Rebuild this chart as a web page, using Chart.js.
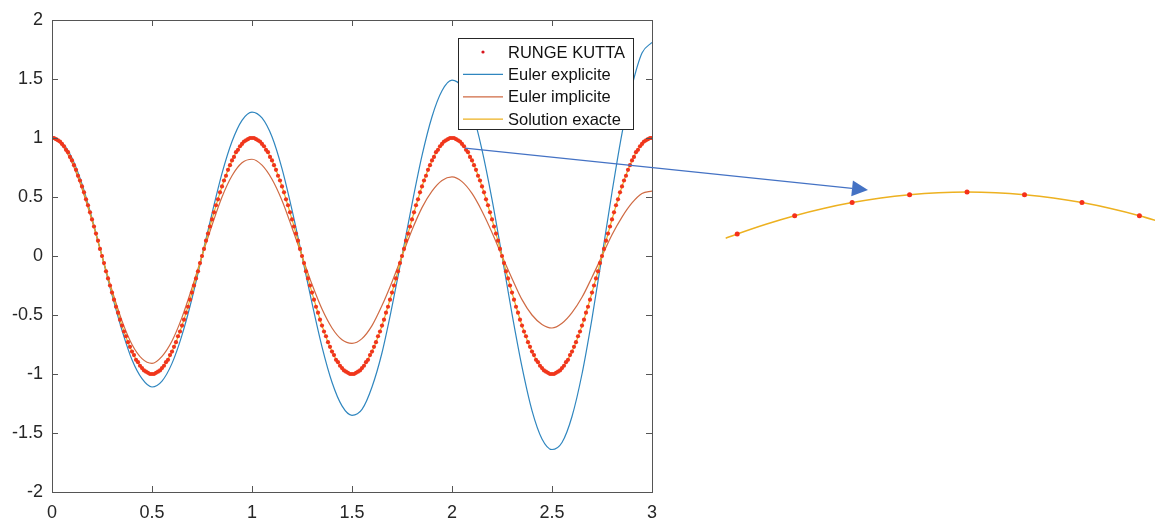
<!DOCTYPE html>
<html>
<head>
<meta charset="utf-8">
<script src="https://cdn.jsdelivr.net/npm/chart.js@4.4.1/dist/chart.umd.min.js"></script>
<style>
    html, body { margin: 0; padding: 0; background: #fff; }
    #wrap { position: relative; width: 1159px; height: 522px; }
    #graphe { position: absolute; left: 0; top: 0; }
    #zoom { position: absolute; left: 660px; top: 150px; }
</style>
</head>
<body>
<div id="wrap">
    <canvas id="graphe" width="1159" height="522"></canvas>
    <canvas id="zoom" width="499" height="110"></canvas>
</div>
<script>
// Pas de temps des différentes méthodes
const pasRK = 0.01;
const pasEuler = 0.05;

// Runge Kutta (t = 0 .. 3)
const rungeKutta = [
    1.00, 1.00, 0.99, 0.98, 0.97, 0.95, 0.93, 0.90, 0.88, 0.84, 0.81, 0.77, 0.73, 0.68, 0.64, 0.59, 0.54, 0.48, 0.43, 0.37, 0.31, 0.25, 0.19, 0.13, 0.06,
    0.00, -0.06, -0.13, -0.19, -0.25, -0.31, -0.37, -0.43, -0.48, -0.54, -0.59, -0.64, -0.68, -0.73, -0.77, -0.81, -0.84, -0.88, -0.90, -0.93, -0.95, -0.97, -0.98, -0.99, -1.00,
    -1.00, -1.00, -0.99, -0.98, -0.97, -0.95, -0.93, -0.90, -0.88, -0.84, -0.81, -0.77, -0.73, -0.68, -0.64, -0.59, -0.54, -0.48, -0.43, -0.37, -0.31, -0.25, -0.19, -0.13, -0.06,
    0.00, 0.06, 0.13, 0.19, 0.25, 0.31, 0.37, 0.43, 0.48, 0.54, 0.59, 0.64, 0.68, 0.73, 0.77, 0.81, 0.84, 0.88, 0.90, 0.93, 0.95, 0.97, 0.98, 0.99, 1.00,
    1.00, 1.00, 0.99, 0.98, 0.97, 0.95, 0.93, 0.90, 0.88, 0.84, 0.81, 0.77, 0.73, 0.68, 0.64, 0.59, 0.54, 0.48, 0.43, 0.37, 0.31, 0.25, 0.19, 0.13, 0.06,
    0.00, -0.06, -0.13, -0.19, -0.25, -0.31, -0.37, -0.43, -0.48, -0.54, -0.59, -0.64, -0.68, -0.73, -0.77, -0.81, -0.84, -0.88, -0.90, -0.93, -0.95, -0.97, -0.98, -0.99, -1.00,
    -1.00, -1.00, -0.99, -0.98, -0.97, -0.95, -0.93, -0.90, -0.88, -0.84, -0.81, -0.77, -0.73, -0.68, -0.64, -0.59, -0.54, -0.48, -0.43, -0.37, -0.31, -0.25, -0.19, -0.13, -0.06,
    0.00, 0.06, 0.13, 0.19, 0.25, 0.31, 0.37, 0.43, 0.48, 0.54, 0.59, 0.64, 0.68, 0.73, 0.77, 0.81, 0.84, 0.88, 0.90, 0.93, 0.95, 0.97, 0.98, 0.99, 1.00,
    1.00, 1.00, 0.99, 0.98, 0.97, 0.95, 0.93, 0.90, 0.88, 0.84, 0.81, 0.77, 0.73, 0.68, 0.64, 0.59, 0.54, 0.48, 0.43, 0.37, 0.31, 0.25, 0.19, 0.13, 0.06,
    0.00, -0.06, -0.13, -0.19, -0.25, -0.31, -0.37, -0.43, -0.48, -0.54, -0.59, -0.64, -0.68, -0.73, -0.77, -0.81, -0.84, -0.88, -0.90, -0.93, -0.95, -0.97, -0.98, -0.99, -1.00,
    -1.00, -1.00, -0.99, -0.98, -0.97, -0.95, -0.93, -0.90, -0.88, -0.84, -0.81, -0.77, -0.73, -0.68, -0.64, -0.59, -0.54, -0.48, -0.43, -0.37, -0.31, -0.25, -0.19, -0.13, -0.06,
    0.00, 0.06, 0.13, 0.19, 0.25, 0.31, 0.37, 0.43, 0.48, 0.54, 0.59, 0.64, 0.68, 0.73, 0.77, 0.81, 0.84, 0.88, 0.90, 0.93, 0.95, 0.97, 0.98, 0.99, 1.00,
    1.00
];

// Euler explicite (amplitude croissante)
const eulerExplicite = [
    1.00, 0.96, 0.83, 0.61, 0.32, 0.00, -0.33, -0.63, -0.88, -1.04,
    -1.11, -1.06, -0.91, -0.67, -0.36, 0.00, 0.36, 0.70, 0.97, 1.15,
    1.22, 1.17, 1.01, 0.74, 0.39, 0.00, -0.40, -0.77, -1.07, -1.27,
    -1.35, -1.30, -1.11, -0.82, -0.43, 0.00, 0.44, 0.85, 1.18, 1.40,
    1.49, 1.43, 1.23, 0.90, 0.48, 0.00, -0.49, -0.94, -1.31, -1.55,
    -1.64, -1.58, -1.36, -1.00, -0.53, 0.00, 0.54, 1.04, 1.44, 1.72,
    1.81
];

// Euler implicite (amplitude décroissante)
const eulerImplicite = [
    1.00, 0.94, 0.79, 0.57, 0.30, 0.00, -0.29, -0.55, -0.75, -0.87,
    -0.91, -0.85, -0.72, -0.52, -0.27, 0.00, 0.26, 0.50, 0.68, 0.79,
    0.82, 0.77, 0.65, 0.47, 0.24, 0.00, -0.24, -0.45, -0.61, -0.71,
    -0.74, -0.70, -0.59, -0.42, -0.22, 0.00, 0.22, 0.41, 0.55, 0.64,
    0.67, 0.63, 0.53, 0.38, 0.20, 0.00, -0.19, -0.37, -0.50, -0.58,
    -0.61, -0.57, -0.48, -0.35, -0.18, 0.00, 0.18, 0.33, 0.45, 0.53,
    0.55
];

// Solution exacte
const solutionExacte = [
    1.00, 0.95, 0.81, 0.59, 0.31, 0.00, -0.31, -0.59, -0.81, -0.95,
    -1.00, -0.95, -0.81, -0.59, -0.31, 0.00, 0.31, 0.59, 0.81, 0.95,
    1.00, 0.95, 0.81, 0.59, 0.31, 0.00, -0.31, -0.59, -0.81, -0.95,
    -1.00, -0.95, -0.81, -0.59, -0.31, 0.00, 0.31, 0.59, 0.81, 0.95,
    1.00, 0.95, 0.81, 0.59, 0.31, 0.00, -0.31, -0.59, -0.81, -0.95,
    -1.00, -0.95, -0.81, -0.59, -0.31, 0.00, 0.31, 0.59, 0.81, 0.95,
    1.00
];

// Zoom autour du sommet t = 2
const zoomTempsRK = [1.96, 1.97, 1.98, 1.99, 2.00, 2.01, 2.02, 2.03];
const zoomValeursRK = [0.9686, 0.9823, 0.9921, 0.9980, 1.0000, 0.9980, 0.9921, 0.9823];
const zoomTempsExacte = [1.958, 1.960, 1.965, 1.970, 1.975, 1.980, 1.985, 1.990, 1.995, 2.000, 2.005, 2.010, 2.015, 2.020, 2.025, 2.030, 2.035];
const zoomValeursExacte = [0.9654, 0.9686, 0.9759, 0.9823, 0.9877, 0.9921, 0.9956, 0.9980, 0.9995, 1.0000, 0.9995, 0.9980, 0.9956, 0.9921, 0.9877, 0.9823, 0.9759];

const policeAxes = "'Liberation Sans', Arial, sans-serif";
const couleurTexte = "#262626";

function points(valeurs, pas) {
    return valeurs.map((v, i) => ({ x: +(i * pas).toFixed(3), y: v }));
}

// Étiquettes sans zéros inutiles (1 et non 1.0)
function etiquette(valeur) {
    return String(+valeur.toFixed(2));
}

// Cadre type MATLAB avec graduations vers l'intérieur
const cadre = {
    id: "cadre",
    afterDraw(chart) {
        const { ctx, chartArea: a, scales } = chart;
        ctx.save();
        ctx.strokeStyle = "#555555";
        ctx.lineWidth = 1;
        ctx.strokeRect(a.left + 0.5, a.top + 0.5, a.right - a.left, a.bottom - a.top);
        ctx.beginPath();
        scales.x.ticks.forEach(t => {
            const px = Math.round(scales.x.getPixelForValue(t.value)) + 0.5;
            ctx.moveTo(px, a.bottom); ctx.lineTo(px, a.bottom - 6);
            ctx.moveTo(px, a.top); ctx.lineTo(px, a.top + 6);
        });
        scales.y.ticks.forEach(t => {
            const py = Math.round(scales.y.getPixelForValue(t.value)) + 0.5;
            ctx.moveTo(a.left, py); ctx.lineTo(a.left + 6, py);
            ctx.moveTo(a.right, py); ctx.lineTo(a.right - 6, py);
        });
        ctx.stroke();
        ctx.restore();
    }
};

// Légende encadrée dans la zone du graphe
const legende = {
    id: "legende",
    afterDraw(chart) {
        const ctx = chart.ctx;
        const x0 = 458, y0 = 38, w = 175, h = 91;
        ctx.save();
        ctx.fillStyle = "#ffffff";
        ctx.fillRect(x0, y0, w, h);
        ctx.strokeStyle = "#262626";
        ctx.lineWidth = 1;
        ctx.strokeRect(x0 + 0.5, y0 + 0.5, w, h);
        ctx.font = "16.5px " + policeAxes;
        ctx.textBaseline = "middle";
        const ordre = [0, 1, 2, 3];
        ordre.forEach((idx, i) => {
            const ds = chart.data.datasets[idx];
            const y = y0 + 14 + i * 22.4;
            if (ds.showLine) {
                ctx.strokeStyle = ds.borderColor;
                ctx.lineWidth = 1.2;
                ctx.beginPath();
                ctx.moveTo(x0 + 5, y);
                ctx.lineTo(x0 + 45, y);
                ctx.stroke();
            } else {
                ctx.fillStyle = "#d8141c";
                ctx.beginPath();
                ctx.arc(x0 + 25, y, 1.6, 0, Math.PI * 2);
                ctx.fill();
            }
            ctx.fillStyle = "#111111";
            ctx.fillText(ds.label, x0 + 50, y + 1);
        });
        ctx.restore();
    }
};

// Flèche vers l'agrandissement
const fleche = {
    id: "fleche",
    afterDraw(chart) {
        const { ctx, scales } = chart;
        const x1 = scales.x.getPixelForValue(2.065);
        const y1 = scales.y.getPixelForValue(0.915);
        const x2 = 868, y2 = 190;
        const ang = Math.atan2(y2 - y1, x2 - x1);
        const lg = 16, lar = 8;
        const bx = x2 - lg * Math.cos(ang), by = y2 - lg * Math.sin(ang);
        ctx.save();
        ctx.strokeStyle = "#4472c4";
        ctx.fillStyle = "#4472c4";
        ctx.lineWidth = 1.3;
        ctx.beginPath();
        ctx.moveTo(x1, y1);
        ctx.lineTo(bx, by);
        ctx.stroke();
        ctx.beginPath();
        ctx.moveTo(x2, y2);
        ctx.lineTo(bx + lar * Math.sin(ang), by - lar * Math.cos(ang));
        ctx.lineTo(bx - lar * Math.sin(ang), by + lar * Math.cos(ang));
        ctx.closePath();
        ctx.fill();
        ctx.restore();
    }
};

const graphe = new Chart(document.getElementById("graphe"), {
    type: "scatter",
    data: {
        datasets: [
            {
                label: "RUNGE KUTTA",
                data: points(rungeKutta, pasRK),
                showLine: false,
                pointRadius: 2.1,
                pointBorderWidth: 0,
                pointBackgroundColor: "#f0361c",
                order: 0,
            },
            {
                label: "Euler explicite",
                data: points(eulerExplicite, pasEuler),
                showLine: true,
                borderColor: "#2f86bf",
                borderWidth: 1.2,
                pointRadius: 0,
                cubicInterpolationMode: "monotone",
                order: 2,
            },
            {
                label: "Euler implicite",
                data: points(eulerImplicite, pasEuler),
                showLine: true,
                borderColor: "#cf6a43",
                borderWidth: 1.2,
                pointRadius: 0,
                cubicInterpolationMode: "monotone",
                order: 3,
            },
            {
                label: "Solution exacte",
                data: points(solutionExacte, pasEuler),
                showLine: true,
                borderColor: "#edb120",
                borderWidth: 1.2,
                pointRadius: 0,
                cubicInterpolationMode: "monotone",
                order: 1,
            },
        ],
    },
    options: {
        responsive: false,
        animation: false,
        layout: { padding: { left: 0, top: 20, right: 507, bottom: 0 } },
        scales: {
            x: {
                type: "linear",
                min: 0,
                max: 3,
                afterFit(s) { s.height = 30; },
                grid: { display: false, drawTicks: false },
                border: { display: false },
                ticks: {
                    stepSize: 0.5,
                    padding: 10,
                    maxRotation: 0,
                    color: couleurTexte,
                    font: { family: policeAxes, size: 18 },
                    callback: etiquette,
                },
            },
            y: {
                min: -2,
                max: 2,
                afterFit(s) { s.width = 52; },
                grid: { display: false, drawTicks: false },
                border: { display: false },
                ticks: {
                    stepSize: 0.5,
                    padding: 9,
                    color: couleurTexte,
                    font: { family: policeAxes, size: 18 },
                    callback: etiquette,
                },
            },
        },
        plugins: {
            legend: { display: false },
            tooltip: { enabled: false },
        },
    },
    plugins: [cadre, legende, fleche],
});

// Agrandissement (sans axes)
const zoomChart = new Chart(document.getElementById("zoom"), {
    type: "scatter",
    data: {
        datasets: [
            {
                label: "RUNGE KUTTA",
                data: zoomTempsRK.map((t, i) => ({ x: t, y: zoomValeursRK[i] })),
                pointRadius: 2.5,
                pointBorderWidth: 0,
                pointBackgroundColor: "#f5301a",
                order: 0,
            },
            {
                label: "Solution exacte",
                data: zoomTempsExacte.map((t, i) => ({ x: t, y: zoomValeursExacte[i] })),
                showLine: true,
                borderColor: "#edb120",
                borderWidth: 1.5,
                pointRadius: 0,
                cubicInterpolationMode: "monotone",
                order: 1,
            },
        ],
    },
    options: {
        responsive: false,
        animation: false,
        layout: { padding: 0 },
        scales: {
            x: { type: "linear", display: false, min: 1.94726, max: 2.03271 },
            y: { display: false, min: 0.9521, max: 1.0285 },
        },
        plugins: {
            legend: { display: false },
            tooltip: { enabled: false },
        },
    },
});
</script>
</body>
</html>
